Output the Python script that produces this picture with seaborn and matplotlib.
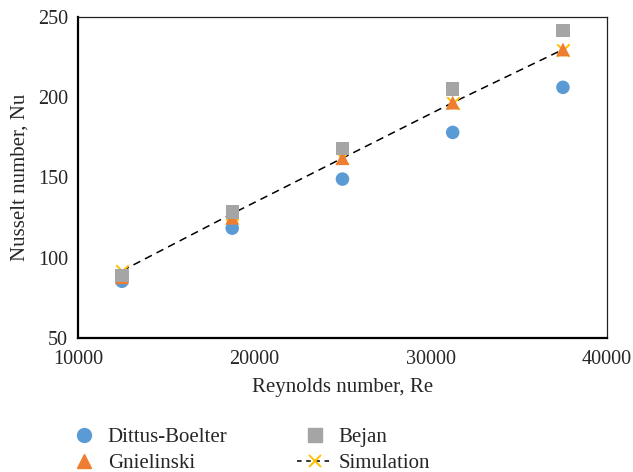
import numpy as np
import pandas as pd
import matplotlib
matplotlib.use("Agg")
import matplotlib.pyplot as plt
import seaborn as sns
from matplotlib.lines import Line2D

# Reynolds numbers of the test cases
reynolds = [12500, 18750, 25000, 31250, 37500]

# Nusselt numbers from the correlations and the simulation
nu_dittus_boelter = [85.5, 118.5, 149.0, 178.0, 206.0]
nu_gnielinski = [88.0, 125.0, 162.0, 196.5, 229.5]
nu_bejan = [89.0, 128.5, 168.0, 205.0, 241.5]
nu_simulation = [92.0, 127.5, 162.0, 196.5, 229.5]

x_ticks = [10000, 20000, 30000, 40000]
y_ticks = [50, 100, 150, 200, 250]

sns.set_theme(style="white")
plt.rcParams["font.family"] = ["Liberation Serif", "DejaVu Serif"]
plt.rcParams["font.size"] = 14

blue = "#5B9BD5"
orange = "#ED7D31"
gray = "#A5A5A5"
gold = "#FFC000"

df = pd.DataFrame({
    "Re": reynolds * 4,
    "Nu": nu_dittus_boelter + nu_gnielinski + nu_bejan + nu_simulation,
    "series": (["Dittus-Boelter"] * 5 + ["Gnielinski"] * 5
               + ["Bejan"] * 5 + ["Simulation"] * 5),
})

fig = plt.figure(figsize=(6.33, 4.72), dpi=100)
ax = fig.add_axes([0.123, 0.283, 0.836, 0.682])

sim = df[df.series == "Simulation"]
sns.lineplot(data=sim, x="Re", y="Nu", ax=ax, color="black", lw=1.1,
             linestyle=(0, (5, 3.5)), zorder=2)
sns.scatterplot(data=sim, x="Re", y="Nu", ax=ax, marker="x", s=80,
                color=gold, linewidth=1.4, zorder=2.5)

for name, color, marker, size in [("Dittus-Boelter", blue, "o", 95),
                                  ("Gnielinski", orange, "^", 100),
                                  ("Bejan", gray, "s", 92)]:
    sub = df[df.series == name]
    sns.scatterplot(data=sub, x="Re", y="Nu", ax=ax, marker=marker, s=size,
                    color=color, edgecolor="none", linewidth=0, zorder=3)

ax.set_xlim(10000, 40000)
ax.set_ylim(50, 250)
ax.set_xticks(x_ticks)
ax.set_yticks(y_ticks)
ax.set_xticklabels([str(t) for t in x_ticks])
ax.set_yticklabels([str(t) for t in y_ticks])
ax.tick_params(axis="x", direction="in", length=5, width=1, color="#404040",
               pad=8, labelsize=14.5)
ax.tick_params(axis="y", length=0, pad=7, labelsize=14.5)
ax.set_xlabel("Reynolds number, Re", fontsize=15, labelpad=7)
ax.set_ylabel("Nusselt number, Nu", fontsize=15, labelpad=6)

for side in ["left", "bottom"]:
    ax.spines[side].set_color("black")
    ax.spines[side].set_linewidth(1.6)
for side in ["top", "right"]:
    ax.spines[side].set_color("#202020")
    ax.spines[side].set_linewidth(0.9)

handles = [
    Line2D([], [], ls="none", marker="o", ms=10, color=blue),
    Line2D([], [], ls="none", marker="^", ms=10, color=orange),
    Line2D([], [], ls="none", marker="s", ms=9.5, color=gray),
    Line2D([], [], color="black", lw=1.1, ls=(0, (3, 3)), marker="x",
           ms=9, mec=gold, mew=1.4),
]
labels = ["Dittus-Boelter", "Gnielinski", "Bejan", "Simulation"]
fig.legend(handles, labels, ncol=2, frameon=False, fontsize=15,
           loc="lower left", bbox_to_anchor=(0.092, -0.02),
           borderaxespad=0, handlelength=1.68, handletextpad=0.3,
           columnspacing=3.35, labelspacing=0.3, numpoints=1)

fig.savefig("out.png", dpi=100)
